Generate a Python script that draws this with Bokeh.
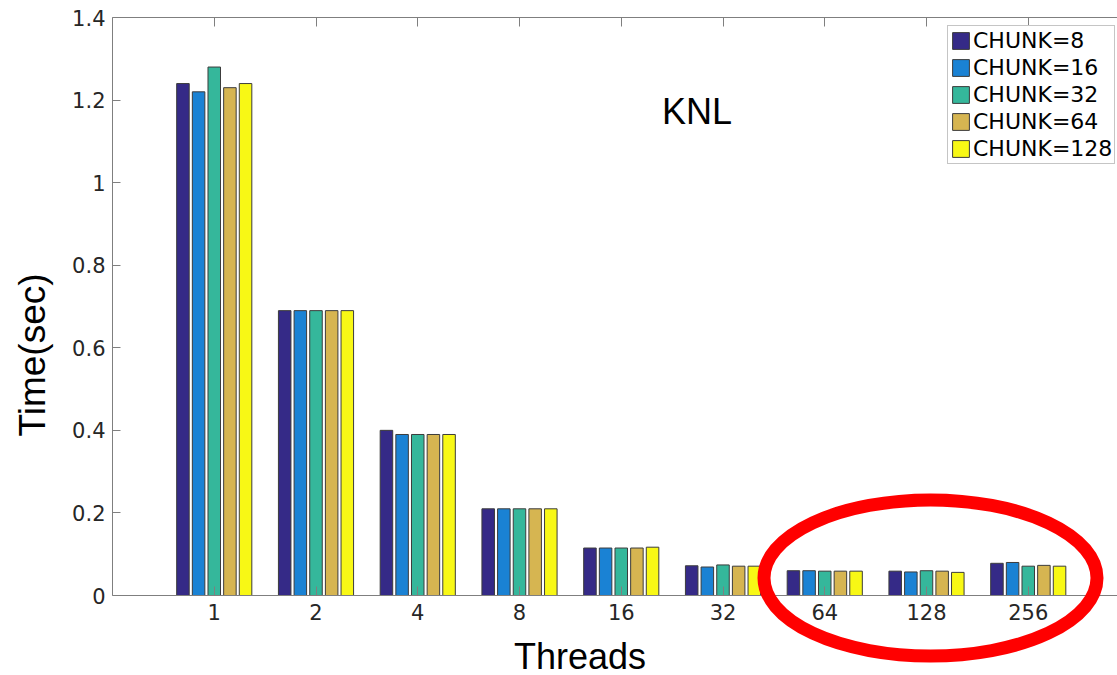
import math

from bokeh.embed import file_html
from bokeh.resources import INLINE
from bokeh.plotting import figure
from bokeh.models import (ColumnDataSource, FixedTicker, LinearAxis, Label,
                          NumeralTickFormatter, Range1d)
from bokeh.transform import dodge

# Run time per thread count, one series per CHUNK size
threads = ["1", "2", "4", "8", "16", "32", "64", "128", "256"]
chunk_labels = ["CHUNK=8", "CHUNK=16", "CHUNK=32", "CHUNK=64", "CHUNK=128"]
chunk8 = [1.24, 0.69, 0.40, 0.21, 0.115, 0.072, 0.060, 0.059, 0.078]
chunk16 = [1.22, 0.69, 0.39, 0.21, 0.115, 0.069, 0.060, 0.057, 0.080]
chunk32 = [1.28, 0.69, 0.39, 0.21, 0.115, 0.074, 0.059, 0.060, 0.071]
chunk64 = [1.23, 0.69, 0.39, 0.21, 0.115, 0.071, 0.059, 0.059, 0.073]
chunk128 = [1.24, 0.69, 0.39, 0.21, 0.117, 0.071, 0.059, 0.056, 0.071]
y_ticks = [0, 0.2, 0.4, 0.6, 0.8, 1.0, 1.2, 1.4]

series = [chunk8, chunk16, chunk32, chunk64, chunk128]
colors = ["#352a87", "#1a82d4", "#35b79b", "#d6b551", "#f8f815"]

positions = list(range(1, len(threads) + 1))
data = {"x": positions}
for i, s in enumerate(series):
    data[f"s{i}"] = s
source = ColumnDataSource(data)

AXIS_GRAY = "#7f7f7f"
TICK_TEXT = "#262626"

W, H = 1117, 675
# the data box: x 0..10, y 0..1.4; the canvas shows a margin round it
PX_X = 101.75            # pixels per group
PX_Y = 578 / 1.4         # pixels per second
LEFT, TOP, BOTTOM = 112, 17, 595
x0 = -LEFT / PX_X
x1 = x0 + W / PX_X
y0 = -(H - BOTTOM) / PX_Y
y1 = 1.4 + TOP / PX_Y

p = figure(width=W, height=H, x_range=Range1d(x0, x1), y_range=Range1d(y0, y1),
           output_backend="svg", toolbar_location=None,
           min_border=0, min_border_left=0, min_border_right=0,
           min_border_top=0, min_border_bottom=0)
p.outline_line_color = None
p.xgrid.visible = False
p.ygrid.visible = False
p.background_fill_color = "white"
p.border_fill_color = "white"

# grouped bars, MATLAB-style layout: 5 bars inside a 0.77 wide group
n = len(series)
group_w = n / (n + 1.5)
step = group_w / n
bar_w = 0.8 * step
for i, (s, c, lab) in enumerate(zip(series, colors, chunk_labels)):
    off = -group_w / 2 + (2 * i + 1) * group_w / (2 * n)
    p.vbar(x=dodge("x", off, range=p.x_range), top=f"s{i}", width=bar_w,
           source=source, fill_color=c, line_color="#3c3c3c", line_width=1,
           legend_label=lab)

# bottom axis, pinned at y = 0
xa = p.xaxis[0]
xa.fixed_location = 0
xa.bounds = (0, 10)
xa.ticker = FixedTicker(ticks=positions)
xa.major_label_overrides = {pos: t for pos, t in zip(positions, threads)}
xa.major_label_text_font = "DejaVu Sans"
xa.major_label_text_font_size = "21px"
xa.major_label_text_color = TICK_TEXT
xa.major_label_standoff = 8
xa.major_tick_in = 9
xa.major_tick_out = 0
xa.minor_tick_line_color = None
xa.axis_line_color = AXIS_GRAY
xa.major_tick_line_color = AXIS_GRAY

# left axis, pinned at x = 0
ya = p.yaxis[0]
ya.fixed_location = 0
ya.bounds = (0, 1.4)
ya.ticker = FixedTicker(ticks=y_ticks)
ya.formatter = NumeralTickFormatter(format="0.[0]")
ya.major_label_text_font = "DejaVu Sans"
ya.major_label_text_font_size = "21px"
ya.major_label_text_color = TICK_TEXT
ya.major_label_standoff = 7
ya.major_tick_in = 8
ya.major_tick_out = 0
ya.minor_tick_line_color = None
ya.axis_line_color = AXIS_GRAY
ya.major_tick_line_color = AXIS_GRAY

# top box edge with inward ticks, no labels
top = LinearAxis(fixed_location=1.4, bounds=(0, 10),
                 ticker=FixedTicker(ticks=positions),
                 major_label_text_color=None, major_label_standoff=0,
                 major_tick_in=9, major_tick_out=0,
                 minor_tick_line_color=None,
                 axis_line_color=AXIS_GRAY, major_tick_line_color=AXIS_GRAY)
p.add_layout(top, "above")

# axis titles and panel tag (positions are text centres, in pixels)
p.add_layout(Label(x=(579.5 - LEFT) / PX_X, y=(BOTTOM - 655.5) / PX_Y,
                   text="Threads", text_font="Liberation Sans",
                   text_font_size="36px", text_color="black",
                   text_align="center", text_baseline="middle"))
p.add_layout(Label(x=(32 - LEFT) / PX_X, y=(BOTTOM - 354.5) / PX_Y,
                   text="Time(sec)", angle=math.pi / 2,
                   text_font="Liberation Sans", text_font_size="37px",
                   text_color="black", text_align="center",
                   text_baseline="middle"))
p.add_layout(Label(x=(696.5 - LEFT) / PX_X, y=(BOTTOM - 111) / PX_Y,
                   text="KNL", text_font="Liberation Sans",
                   text_font_size="36px", text_color="black",
                   text_align="center", text_baseline="middle"))

# red ring around the high thread counts
ring = p.ellipse(x=[(930 - LEFT) / PX_X], y=[(BOTTOM - 577.5) / PX_Y],
                 width=[2 * 166.5 / PX_X], height=[2 * 78 / PX_Y],
                 fill_color=None, line_color="#ff0000", line_width=13)
ring.level = "overlay"

# legend
lg = p.legend[0]
lg.location = (947, H - 164)
lg.label_text_font = "DejaVu Sans"
lg.label_text_font_size = "22px"
lg.label_text_color = "black"
lg.glyph_width = 21
lg.glyph_height = 21
lg.label_height = 21
lg.spacing = 2
lg.padding = 2
lg.margin = 0
lg.label_standoff = 2
lg.border_line_color = "#8c8c8c"
lg.border_line_width = 1
lg.background_fill_color = "white"
lg.background_fill_alpha = 1.0

open("out.html", "w").write(file_html(p, INLINE))
